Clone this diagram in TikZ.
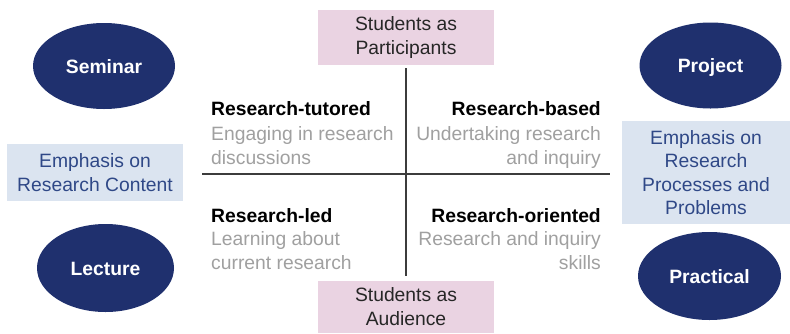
\documentclass[tikz,border=0pt]{standalone}
\usepackage{fontspec}
\setmainfont{Liberation Sans}
\usetikzlibrary{shapes.geometric}
\definecolor{navy}{RGB}{31,48,110}
\definecolor{pinkbg}{RGB}{234,211,226}
\definecolor{bluebg}{RGB}{219,228,240}
\definecolor{bluetxt}{RGB}{47,72,135}
\definecolor{graytxt}{RGB}{160,160,160}
\definecolor{linecol}{RGB}{60,60,60}
\definecolor{darktxt}{RGB}{38,38,38}
\tikzset{
  oval/.style={ellipse, fill=navy, text=white, inner sep=0pt, text height=14pt, text depth=0pt, font=\fontsize{19.3}{24}\selectfont\bfseries},
  pinkbox/.style={rectangle, fill=pinkbg, text=darktxt, inner sep=0pt, align=center, font=\fontsize{19.3}{24}\selectfont},
  bluebox/.style={rectangle, fill=bluebg, text=bluetxt, inner sep=0pt, align=center, font=\fontsize{19.3}{23.5}\selectfont},
  ttl/.style={inner sep=0pt, text=black, font=\fontsize{19.3}{24}\selectfont\bfseries},
  desc/.style={inner sep=0pt, text=graytxt, font=\fontsize{19.3}{24}\selectfont},
  axis/.style={draw=linecol, line width=1.5pt}
}
\begin{document}
\begin{tikzpicture}[x=1pt,y=-1pt]
\useasboundingbox[fill=white] (0,0) rectangle (790,333);
% ovals
\node[oval, minimum width=142pt, minimum height=86pt] (seminar) at (104,66) {Seminar};
\node[oval, minimum width=137pt, minimum height=88pt] (lecture) at (105.5,268) {Lecture};
\node[oval, minimum width=142pt, minimum height=86pt] (project) at (710.5,65.5) {Project};
\node[oval, minimum width=143pt, minimum height=88pt] (practical) at (709.5,276) {Practical};
% pink boxes
\node[pinkbox, minimum width=176pt, minimum height=55pt] (top) at (406,37.5) {Students as\\Participants};
\node[pinkbox, minimum width=176pt, minimum height=52pt] (bottom) at (406,307) {Students as\\Audience};
% blue boxes
\node[bluebox, minimum width=176pt, minimum height=57pt] (leftbox) at (95,172.5) {Emphasis on\\Research Content};
\node[bluebox, minimum width=168pt, minimum height=103pt] (rightbox) at (706,172.5) {Emphasis on\\Research\\Processes and\\Problems};
% axes
\coordinate (vtop) at (406,68);
\coordinate (vbot) at (406,276);
\coordinate (hleft) at (202,174);
\coordinate (hright) at (610,174);
\draw[axis] (vtop) -- (vbot);
\draw[axis] (hleft) -- (hright);
% quadrant texts
\node[ttl, anchor=base west] (tut) at (211,115) {Research-tutored};
\node[desc, anchor=base west] (tut1) at (211,140) {Engaging in research};
\node[desc, anchor=base west] (tut2) at (211,164) {discussions};
\node[ttl, anchor=base east] (bas) at (601,115) {Research-based};
\node[desc, anchor=base east] (bas1) at (601,140) {Undertaking research};
\node[desc, anchor=base east] (bas2) at (601,164) {and inquiry};
\node[ttl, anchor=base west] (led) at (211,222) {Research-led};
\node[desc, anchor=base west] (led1) at (211,245) {Learning about};
\node[desc, anchor=base west] (led2) at (211,269) {current research};
\node[ttl, anchor=base east] (ori) at (601,222) {Research-oriented};
\node[desc, anchor=base east] (ori1) at (601,245) {Research and inquiry};
\node[desc, anchor=base east] (ori2) at (601,269) {skills};
\end{tikzpicture}
\end{document}
